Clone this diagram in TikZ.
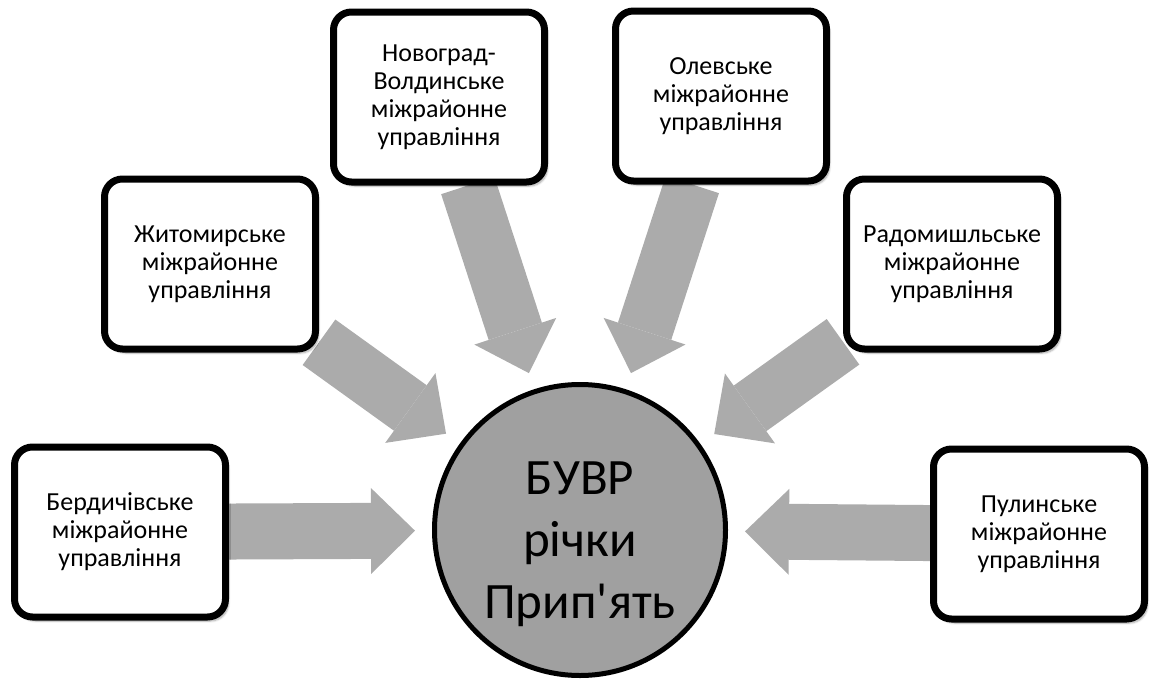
\documentclass[tikz,border=0pt]{standalone}
\usepackage{fontspec}
\setmainfont{Carlito}[Ligatures=TeXOff]
\usepackage{tikz}
\usetikzlibrary{backgrounds, calc, positioning}
\usetikzlibrary{arrows.meta, shadows.blur}

\definecolor{hubgray}{HTML}{A0A0A0}
\definecolor{flowgray}{HTML}{ABABAB}

\begin{document}
\begin{tikzpicture}[x=1pt, y=-1pt,
    office/.style={draw=black, line width=7pt, rounded corners=18pt, fill=white,
      minimum width=211pt, minimum height=170pt, align=center,
      font=\fontsize{26}{28}\selectfont,
      blur shadow={shadow xshift=3pt, shadow yshift=-4pt,
        shadow blur steps=6, shadow opacity=35}},
    hub/.style={circle, draw=black, line width=5pt, fill=hubgray,
      minimum size=291pt, inner sep=0pt},
    hubtext/.style={align=center, font=\fontsize{51}{62}\selectfont, yshift=-14pt},
    flow/.style={draw=flowgray, line width=56pt, shorten >=17pt,
      -{Triangle[width=86pt 0, length=44pt 0, line width=0pt]}},
  ]
    \useasboundingbox (0,0) rectangle (1149,688);

    % centre
    \node[hub, label={[hubtext]center:БУВР\\річки\\Прип'ять}] (buvr) at (580,530) {};

    % offices
    \node[office] (berd) at (120,532) {Бердичівське\\міжрайонне\\управління};
    \node[office] (zhyt) at (210,264) {Житомирське\\міжрайонне\\управління};
    \node[office] (novo) at (439,97) {Новоград-\\Волдинське\\міжрайонне\\управління};
    \node[office] (olev) at (721,96) {Олевське\\міжрайонне\\управління};
    \node[office] (rado) at (952,264) {Радомишльське\\міжрайонне\\управління};
    \node[office] (puly) at (1039,534) {Пулинське\\міжрайонне\\управління};

    \begin{scope}[on background layer]
      \foreach \src in {berd, zhyt, novo, olev, rado, puly}
        \draw[flow] (\src) -- (buvr);
    \end{scope}
\end{tikzpicture}
\end{document}
